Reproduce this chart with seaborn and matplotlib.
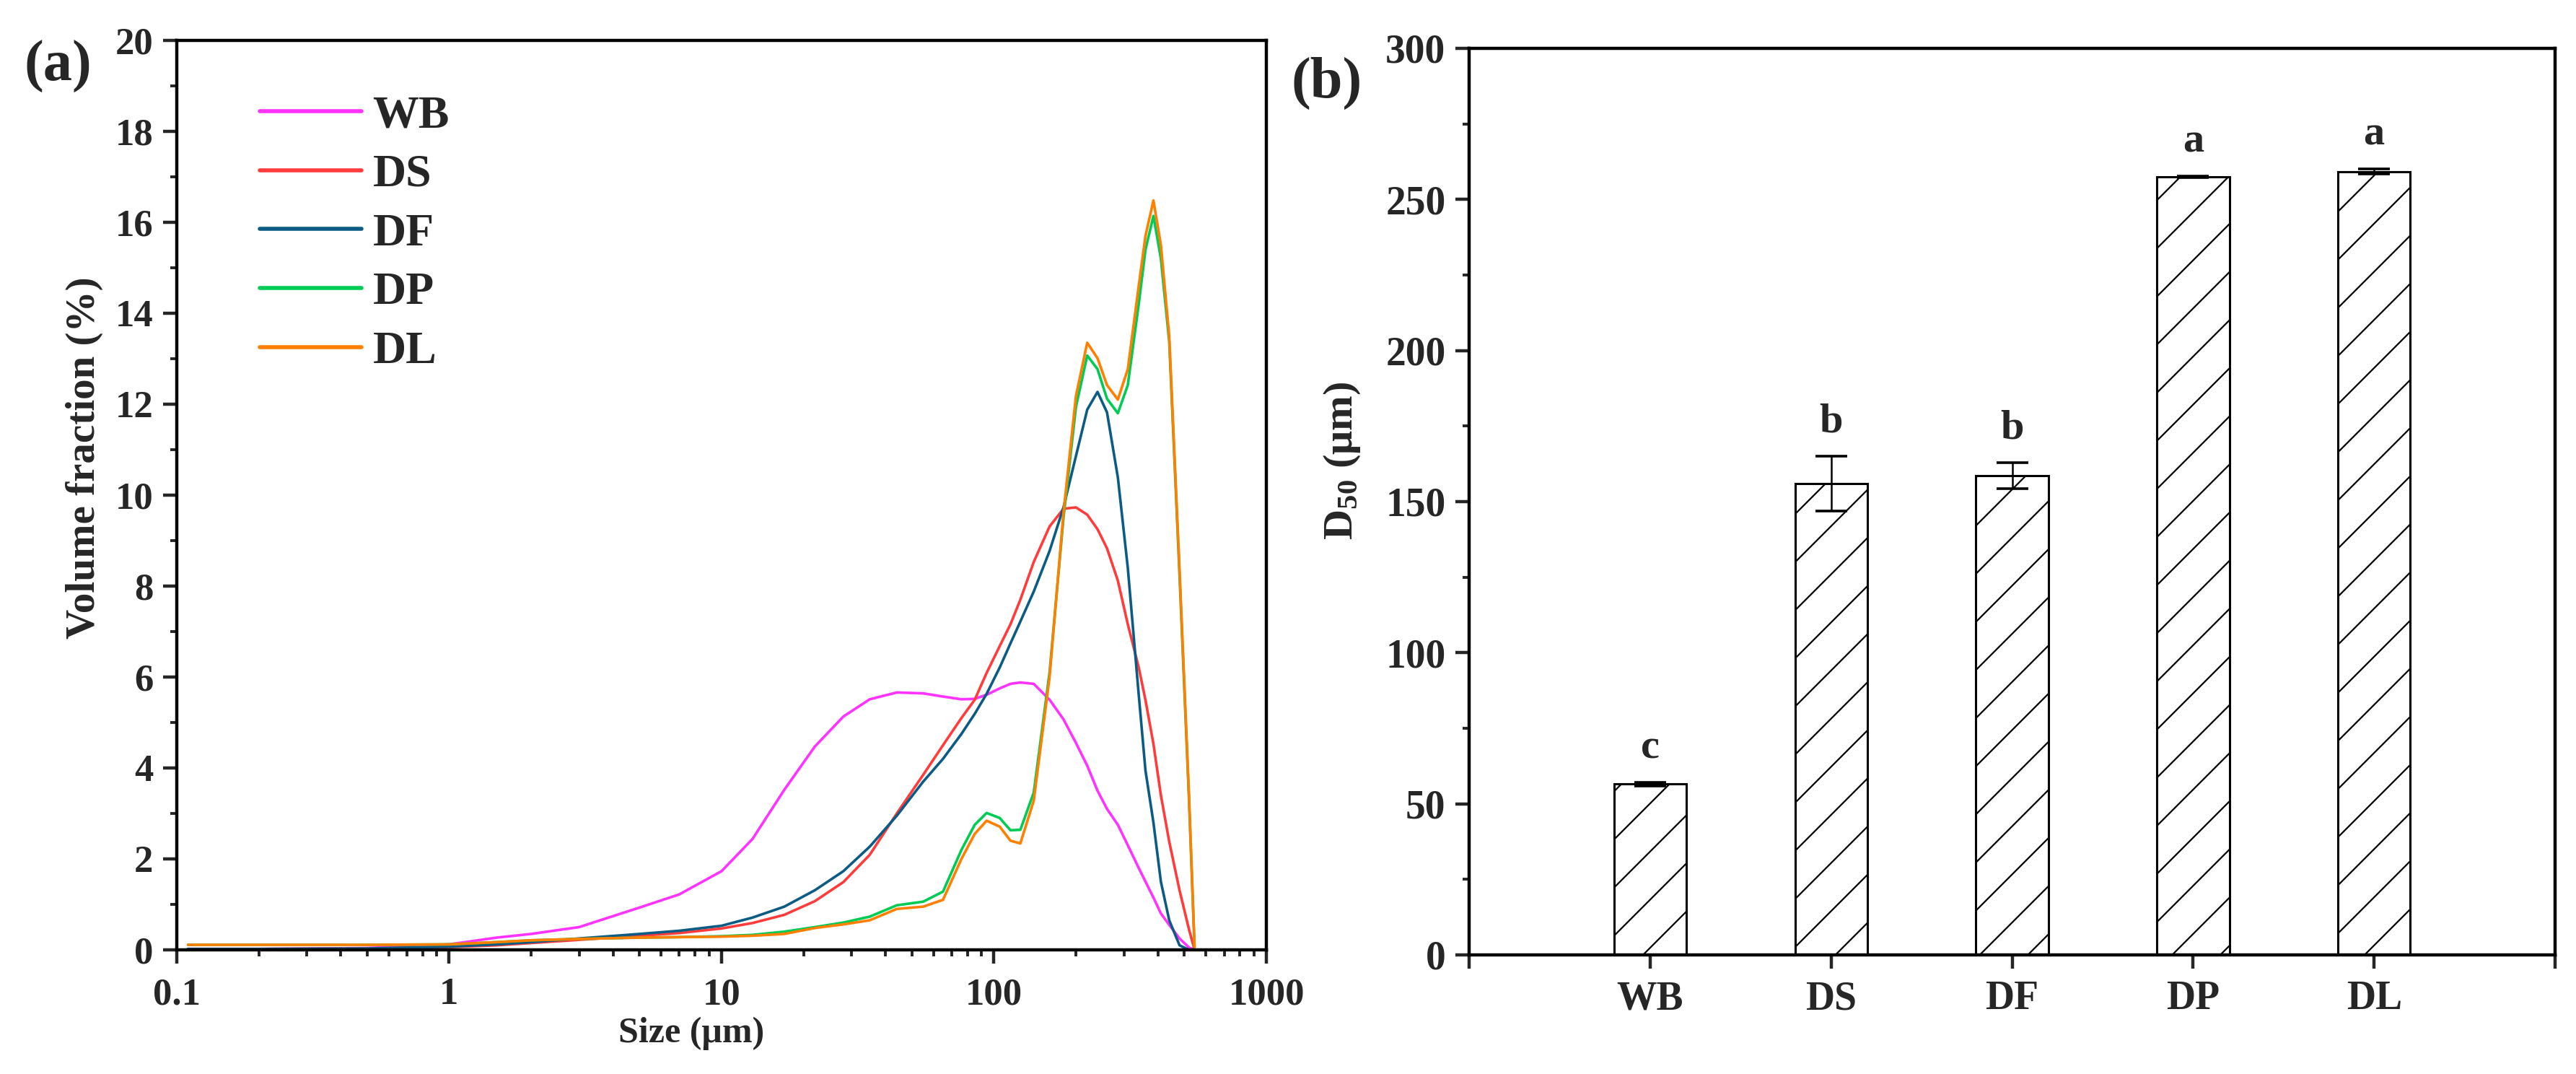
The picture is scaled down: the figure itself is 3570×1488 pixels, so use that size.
import numpy as np
import pandas as pd
import matplotlib
matplotlib.use("Agg")
import matplotlib.pyplot as plt
from matplotlib.ticker import MultipleLocator, LogLocator, NullFormatter, FixedLocator, FixedFormatter
import seaborn as sns

# particle size distribution (panel a)
sizes = [0.11, 0.2, 0.5, 1, 1.5, 2, 3, 5, 7, 10, 13, 17, 22, 28, 35, 44, 55, 65, 76, 85,
         94, 105, 115, 125, 140, 160, 180, 200, 220, 240, 260, 285, 310, 340, 360, 385,
         410, 440, 480, 520, 545]
wb = [0.02, 0.02, 0.04, 0.12, 0.27, 0.35, 0.5, 0.93, 1.22, 1.73, 2.44, 3.52, 4.47, 5.13,
      5.51, 5.66, 5.64, 5.57, 5.51, 5.52, 5.61, 5.75, 5.85, 5.88, 5.85, 5.5, 5.07, 4.55,
      4.05, 3.5, 3.1, 2.75, 2.3, 1.8, 1.5, 1.15, 0.8, 0.55, 0.25, 0.05, 0.0]
ds = [0.02, 0.02, 0.03, 0.06, 0.1, 0.15, 0.22, 0.31, 0.37, 0.47, 0.59, 0.77, 1.07, 1.49,
      2.09, 3.0, 3.85, 4.5, 5.1, 5.5, 6.09, 6.68, 7.16, 7.7, 8.53, 9.31, 9.7, 9.73, 9.57,
      9.25, 8.83, 8.12, 7.16, 6.21, 5.49, 4.53, 3.4, 2.38, 1.31, 0.45, 0.0]
df_ = [0.02, 0.02, 0.03, 0.07, 0.12, 0.17, 0.25, 0.35, 0.42, 0.53, 0.71, 0.95, 1.31, 1.73,
       2.27, 2.95, 3.7, 4.2, 4.75, 5.19, 5.63, 6.21, 6.74, 7.22, 7.88, 8.77, 9.73, 10.86,
       11.88, 12.27, 11.82, 10.39, 8.4, 5.61, 3.94, 2.8, 1.5, 0.65, 0.1, 0.0, 0.0]
dp = [0.11, 0.11, 0.11, 0.12, 0.17, 0.21, 0.24, 0.27, 0.28, 0.3, 0.33, 0.4, 0.5, 0.6,
      0.73, 0.98, 1.06, 1.28, 2.2, 2.75, 3.01, 2.9, 2.63, 2.64, 3.46, 6.1, 9.5, 11.94,
      13.07, 12.77, 12.12, 11.8, 12.42, 14.2, 15.4, 16.14, 15.2, 13.37, 8.24, 3.3, 0.06]
dl = [0.11, 0.11, 0.11, 0.12, 0.17, 0.21, 0.24, 0.27, 0.28, 0.29, 0.31, 0.35, 0.48, 0.56,
      0.65, 0.9, 0.95, 1.1, 2.0, 2.55, 2.84, 2.71, 2.4, 2.34, 3.28, 6.0, 9.61, 12.18,
      13.35, 13.01, 12.42, 12.1, 12.77, 14.6, 15.7, 16.48, 15.5, 13.49, 8.36, 3.4, 0.06]

samples = ["WB", "DS", "DF", "DP", "DL"]
colors = ["#FF33FF", "#FF3B3B", "#0B5B84", "#00CC55", "#FF7F00"]

# D50 (panel b)
d50 = [56.5, 156.0, 158.5, 257.5, 259.2]
d50_err = [0.5, 9.0, 4.3, 0.3, 0.8]
letters = ["c", "b", "b", "a", "a"]

# long table for seaborn
psd = pd.DataFrame({
    "size": sizes * 5,
    "vf": wb + ds + df_ + dp + dl,
    "sample": np.repeat(samples, len(sizes)),
})

sns.set_theme(style="ticks")
plt.rcParams["font.family"] = ["Liberation Serif", "DejaVu Serif"]
plt.rcParams["font.weight"] = "bold"
plt.rcParams["mathtext.fontset"] = "custom"
plt.rcParams["mathtext.rm"] = "Liberation Serif:bold"
plt.rcParams["mathtext.bf"] = "Liberation Serif:bold"
plt.rcParams["mathtext.default"] = "bf"
plt.rcParams["hatch.linewidth"] = 0.8
plt.rcParams["axes.linewidth"] = 1.6
plt.rcParams["xtick.major.width"] = 1.6
plt.rcParams["ytick.major.width"] = 1.6
plt.rcParams["xtick.minor.width"] = 1.4
plt.rcParams["ytick.minor.width"] = 1.4
plt.rcParams["axes.edgecolor"] = "black"

fig = plt.figure(figsize=(17.85, 7.44), dpi=200)
ax1 = fig.add_axes([0.0686, 0.1156, 0.4230, 0.8468])
ax2 = fig.add_axes([0.5703, 0.1109, 0.4216, 0.8441])

# ---- panel (a)
sns.lineplot(data=psd, x="size", y="vf", hue="sample", hue_order=samples,
             palette=dict(zip(samples, colors)), estimator=None, sort=False,
             linewidth=1.3, ax=ax1)
ax1.set_xscale("log")
ax1.set_xlim(0.1, 1000)
ax1.set_ylim(0, 20)
ax1.xaxis.set_major_locator(FixedLocator([0.1, 1, 10, 100, 1000]))
ax1.xaxis.set_major_formatter(FixedFormatter(["0.1", "1", "10", "100", "1000"]))
ax1.xaxis.set_minor_locator(LogLocator(base=10, subs=np.arange(2, 10)))
ax1.xaxis.set_minor_formatter(NullFormatter())
ax1.yaxis.set_major_locator(MultipleLocator(2))
ax1.yaxis.set_minor_locator(MultipleLocator(1))
ax1.set_xlabel("")
ax1.set_ylabel("")

leg = ax1.legend(loc="upper left", bbox_to_anchor=(0.0762, 0.94), frameon=False,
                 fontsize=23, handlelength=2.2, handletextpad=0.25,
                 labelspacing=0.36, borderpad=0, borderaxespad=0)
for line in leg.get_lines():
    line.set_linewidth(2.0)

# ---- panel (b)
sns.barplot(x=samples, y=d50, width=0.4, color="white", edgecolor="black",
            linewidth=1.1, hatch="/", errorbar=None, ax=ax2)
ax2.errorbar(np.arange(len(samples)), d50, yerr=d50_err, fmt="none", ecolor="black",
             elinewidth=0.9, capsize=8, capthick=1.3, zorder=5)
for i, (v, e, t) in enumerate(zip(d50, d50_err, letters)):
    ax2.text(i, v + e + 8, t, ha="center", va="baseline", fontsize=21, fontweight="bold")
ax2.set_xlim(-1, 5)
ax2.set_ylim(0, 300)
ax2.set_xticks(np.arange(-1, 6))
ax2.set_xticklabels([""] + samples + [""])
ax2.yaxis.set_major_locator(MultipleLocator(50))
ax2.yaxis.set_minor_locator(MultipleLocator(25))
ax2.set_xlabel("")
ax2.set_ylabel("")

for ax, fs in ((ax1, 19), (ax2, 20)):
    for s in ax.spines.values():
        s.set_visible(True)
        s.set_linewidth(1.6)
    ax.tick_params(axis="both", which="both", direction="out", top=False, right=False,
                   labelsize=fs)
    ax.tick_params(axis="both", which="major", length=6.7)
    ax.tick_params(axis="both", which="minor", length=3.3)
ax1.tick_params(axis="x", which="major", pad=7)
ax1.tick_params(axis="y", which="major", pad=5)
ax2.tick_params(axis="x", which="major", pad=6)
ax2.tick_params(axis="y", which="major", pad=5)

# labels
fig.text(0.0328, 0.574, "Volume fraction (%)", rotation=90, ha="center", va="center",
         fontsize=20.5, fontweight="bold")
fig.text(0.2683, 0.038, "Size (μm)", ha="center", va="center", fontsize=18,
         fontweight="bold")
fig.text(0.521, 0.571, r"D$_{50}$ (μm)", rotation=90, ha="center", va="center",
         fontsize=21, fontweight="bold")
fig.text(0.0224, 0.938, "(a)", ha="center", va="center", fontsize=29, fontweight="bold")
fig.text(0.5151, 0.9227, "(b)", ha="center", va="center", fontsize=29, fontweight="bold")

fig.savefig("out.png", dpi=200, facecolor="white")
